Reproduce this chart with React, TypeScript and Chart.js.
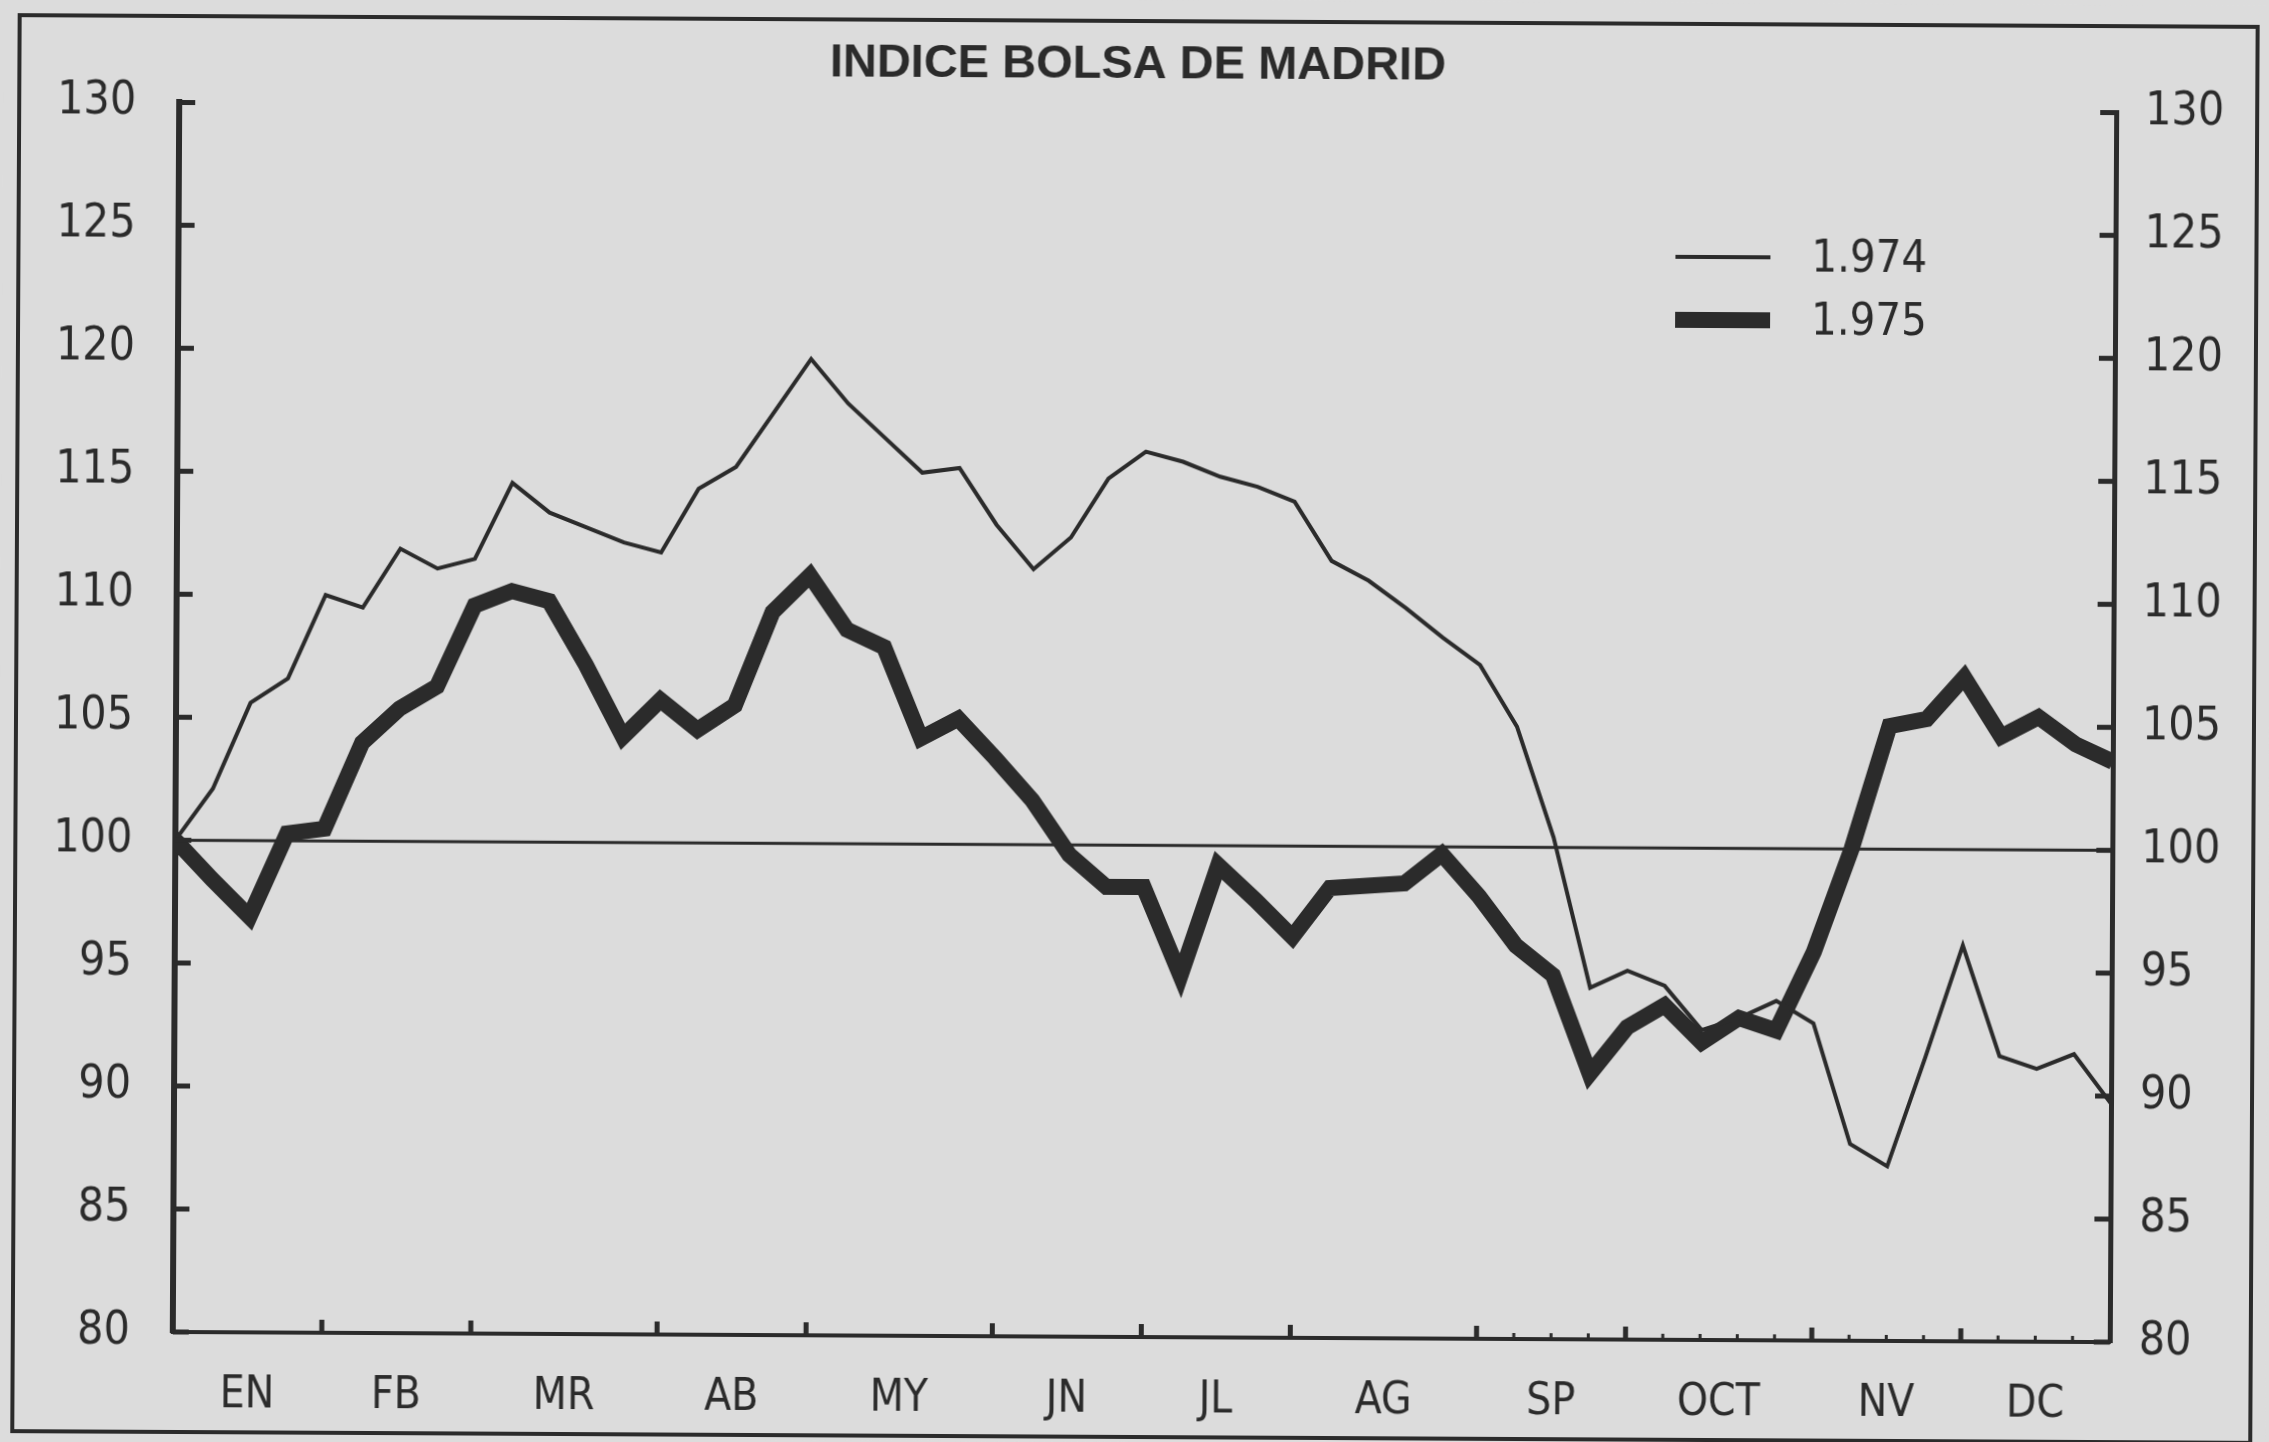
import React, { useEffect, useRef } from "react";
import { Chart, registerables } from "chart.js";

Chart.register(...registerables);

// ---------- data ----------
const TITLE = "INDICE BOLSA DE MADRID";
const MONTHS = ["EN", "FB", "MR", "AB", "MY", "JN", "JL", "AG", "SP", "OCT", "NV", "DC"];
const WEEKS_PER_MONTH = [4, 4, 5, 4, 5, 4, 4, 5, 4, 5, 4, 4];
const Y_MIN = 80;
const Y_MAX = 130;
const Y_STEP = 5;
const BASE_VALUE = 100;
const LABEL_1974 = "1.974";
const LABEL_1975 = "1.975";

// weekly index values, week 0 .. week 52
const SERIES_1974 = [
  100.0, 102.1, 105.6, 106.6, 110.0, 109.5, 111.9, 111.1, 111.5, 114.6,
  113.4, 112.8, 112.2, 111.8, 114.4, 115.3, 117.5, 119.7, 117.9, 116.5,
  115.1, 115.3, 113.0, 111.2, 112.5, 114.9, 116.0, 115.6, 115.0, 114.6,
  114.0, 111.6, 110.8, 109.7, 108.5, 107.4, 104.9, 100.4, 94.3, 95.0,
  94.4, 92.6, 93.1, 93.8, 92.9, 88.0, 87.1, 91.5, 96.1, 91.6,
  91.1, 91.7, 89.7,
];
const SERIES_1975 = [
  100.0, 98.4, 96.9, 100.3, 100.5, 104.0, 105.4, 106.3, 109.6, 110.2,
  109.8, 107.2, 104.3, 105.8, 104.6, 105.6, 109.4, 110.9, 108.7, 108.0,
  104.3, 105.1, 103.5, 101.8, 99.6, 98.3, 98.3, 94.7, 99.2, 97.8,
  96.3, 98.3, 98.4, 98.5, 99.7, 98.0, 96.0, 94.8, 90.8, 92.7,
  93.6, 92.1, 93.1, 92.6, 95.8, 100.0, 105.0, 105.3, 107.0, 104.6,
  105.4, 104.3, 103.6,
];

// ---------- styles ----------
const W = 2269;
const H = 1442;
const PAPER = "#dcdcdc";
const INK = "#2b2b2b";
const NARROW = "'Liberation Sans Narrow', 'DejaVu Sans Condensed', 'Liberation Sans', sans-serif";
const BOLD = "'Liberation Sans', Arial, sans-serif";

const MONTH_BOUNDS: number[] = WEEKS_PER_MONTH.reduce(
  (acc: number[], n) => [...acc, acc[acc.length - 1] + n],
  [0]
);
const MONTH_CENTERS = MONTHS.map((_, i) => (MONTH_BOUNDS[i] + MONTH_BOUNDS[i + 1]) / 2);
const LAST_WEEK = MONTH_BOUNDS[MONTH_BOUNDS.length - 1];

const decorPlugin = {
  id: "decor",
  beforeDraw(chart: any) {
    const ctx = chart.ctx;
    ctx.save();
    ctx.fillStyle = PAPER;
    ctx.fillRect(0, 0, chart.width, chart.height);
    ctx.strokeStyle = INK;
    ctx.lineWidth = 4;
    ctx.strokeRect(16, 21, 2238, 1416);
    ctx.restore();
  },
  beforeDatasetsDraw(chart: any) {
    const ctx = chart.ctx;
    const { left, right } = chart.chartArea;
    const py = chart.scales.y.getPixelForValue(BASE_VALUE);
    ctx.save();
    ctx.strokeStyle = INK;
    ctx.lineWidth = 3;
    ctx.beginPath();
    ctx.moveTo(left, py);
    ctx.lineTo(right, py);
    ctx.stroke();
    ctx.restore();
  },
  afterDraw(chart: any) {
    const ctx = chart.ctx;
    const { left, right, bottom } = chart.chartArea;
    const ys = chart.scales.y;
    const xs = chart.scales.x;
    ctx.save();
    ctx.strokeStyle = INK;
    ctx.lineCap = "butt";
    // inward y ticks
    ctx.lineWidth = 5;
    ys.ticks.forEach((t: any) => {
      const py = ys.getPixelForValue(t.value);
      ctx.beginPath();
      ctx.moveTo(left, py);
      ctx.lineTo(left + 16, py);
      ctx.moveTo(right - 16, py);
      ctx.lineTo(right, py);
      ctx.stroke();
    });
    // month boundary ticks
    MONTH_BOUNDS.slice(1, -1).forEach((b) => {
      const px = xs.getPixelForValue(b);
      ctx.beginPath();
      ctx.moveTo(px, bottom);
      ctx.lineTo(px, bottom - 13);
      ctx.stroke();
    });
    // small weekly ticks (late year)
    ctx.lineWidth = 3;
    for (let w = 36; w < LAST_WEEK; w++) {
      if (MONTH_BOUNDS.includes(w)) continue;
      const px = xs.getPixelForValue(w);
      ctx.beginPath();
      ctx.moveTo(px, bottom);
      ctx.lineTo(px, bottom - 6);
      ctx.stroke();
    }
    // legend
    const lx0 = 1673;
    const lx1 = 1768;
    const rows = [254, 317];
    chart.data.datasets.forEach((ds: any, i: number) => {
      const y = rows[i];
      ctx.lineWidth = i === 0 ? 4 : 16;
      ctx.beginPath();
      ctx.moveTo(lx0, y);
      ctx.lineTo(lx1, y);
      ctx.stroke();
      ctx.fillStyle = INK;
      ctx.font = `45px ${NARROW}`;
      ctx.textAlign = "left";
      ctx.textBaseline = "middle";
      ctx.fillText(ds.label, 1809, y + 2);
    });
    ctx.restore();
  },
};

export default function App() {
  const ref = useRef<HTMLCanvasElement>(null);

  useEffect(() => {
    const canvas = ref.current;
    if (!canvas) return;
    const tickFont = { family: NARROW, size: 46 };
    const chart = new Chart(canvas, {
      type: "line",
      data: {
        datasets: [
          {
            label: LABEL_1974,
            data: SERIES_1974.map((v, i) => ({ x: i, y: v })),
            borderColor: INK,
            borderWidth: 4,
            pointRadius: 0,
            tension: 0,
            borderJoinStyle: "miter",
            yAxisID: "y",
          },
          {
            label: LABEL_1975,
            data: SERIES_1975.map((v, i) => ({ x: i, y: v })),
            borderColor: INK,
            borderWidth: 16,
            pointRadius: 0,
            tension: 0,
            borderJoinStyle: "miter",
            yAxisID: "y",
          },
        ],
      },
      options: {
        responsive: false,
        animation: false,
        devicePixelRatio: 1,
        layout: { padding: 0 },
        plugins: {
          legend: { display: false },
          tooltip: { enabled: false },
          title: {
            display: true,
            text: TITLE,
            color: INK,
            font: { family: BOLD, size: 47, weight: "bold" },
            padding: { top: 37, bottom: 14 },
          },
        },
        scales: {
          x: {
            type: "linear",
            min: 0,
            max: LAST_WEEK,
            grid: { display: false, drawTicks: false },
            border: { display: true, color: INK, width: 4 },
            afterBuildTicks: (axis: any) => {
              axis.ticks = MONTH_CENTERS.map((v) => ({ value: v }));
            },
            afterFit: (axis: any) => {
              axis.height = 105;
            },
            ticks: {
              autoSkip: false,
              maxRotation: 0,
              minRotation: 0,
              padding: 37,
              color: INK,
              font: { family: NARROW, size: 44 },
              callback: (_v: any, i: number) => MONTHS[i],
            },
          },
          y: {
            position: "left",
            min: Y_MIN,
            max: Y_MAX,
            grid: { display: false, drawTicks: false },
            border: { display: true, color: INK, width: 6 },
            afterFit: (axis: any) => {
              axis.width = 176;
            },
            ticks: { stepSize: Y_STEP, padding: 43, color: INK, font: tickFont },
          },
          y2: {
            position: "right",
            min: Y_MIN,
            max: Y_MAX,
            grid: { display: false, drawTicks: false },
            border: { display: true, color: INK, width: 5 },
            afterFit: (axis: any) => {
              axis.width = 156;
            },
            ticks: { stepSize: Y_STEP, padding: 29, color: INK, font: tickFont },
          },
        },
      },
      plugins: [decorPlugin],
    } as any);
    return () => chart.destroy();
  }, []);

  return (
    <div
      style={{
        position: "fixed",
        left: 0,
        top: 0,
        width: W,
        height: H,
        background: PAPER,
        overflow: "hidden",
      }}
    >
      <canvas
        ref={ref}
        width={W}
        height={H}
        style={{
          display: "block",
          width: W,
          height: H,
          transform: "rotate(0.3deg)",
          transformOrigin: "50% 50%",
        }}
      />
    </div>
  );
}
